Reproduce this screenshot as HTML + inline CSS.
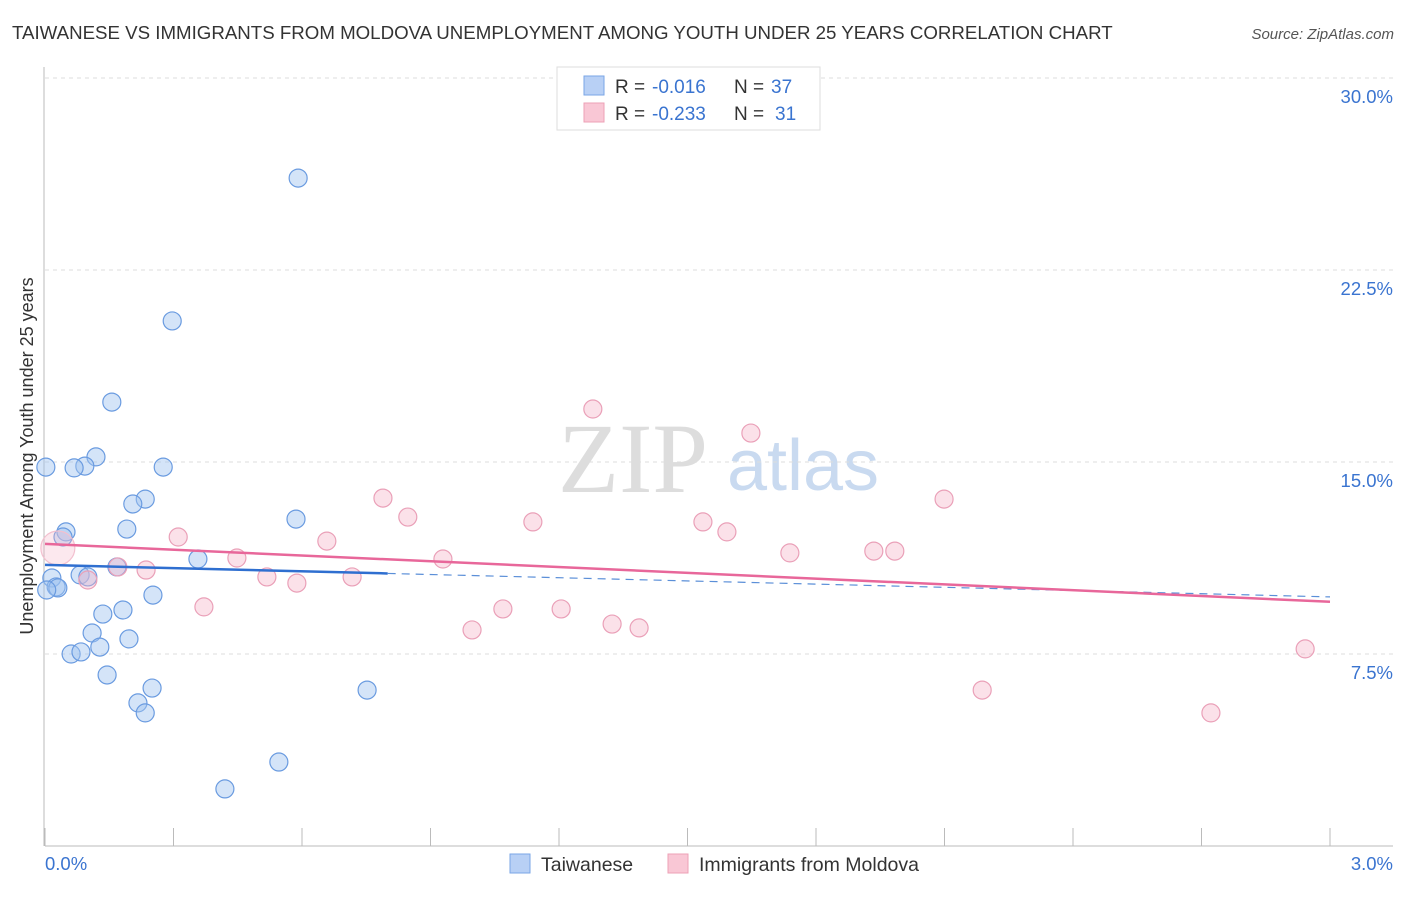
<!DOCTYPE html>
<html><head><meta charset="utf-8"><style>
body{margin:0;background:#fff;font-family:"Liberation Sans",sans-serif;}
</style></head><body>
<svg width="1406" height="892" xmlns="http://www.w3.org/2000/svg" id="svg" font-family="Liberation Sans, sans-serif">
<text x="12" y="39" font-size="18.7" fill="#333">TAIWANESE VS IMMIGRANTS FROM MOLDOVA UNEMPLOYMENT AMONG YOUTH UNDER 25 YEARS CORRELATION CHART</text>
<text x="1394" y="39" font-size="15" fill="#555" font-style="italic" text-anchor="end">Source: ZipAtlas.com</text>
<text x="633" y="492" font-size="100" fill="#ddd" font-family="Liberation Serif,serif" text-anchor="middle">ZIP</text>
<text x="803" y="490" font-size="72" fill="#c9daf0" text-anchor="middle">atlas</text>
<text transform="translate(33,456) rotate(-90)" font-size="18" fill="#333" text-anchor="middle">Unemployment Among Youth under 25 years</text>
<g id="grid"></g><g id="marks"></g>
<g>
<rect x="557" y="67" width="263" height="63" fill="#fff" stroke="#ddd"/>
<rect x="584" y="76" width="20" height="19" fill="#b8d0f5" stroke="#7aa6e6"/>
<rect x="584" y="103" width="20" height="19" fill="#f9c7d5" stroke="#eda0b6"/>
<text x="615" y="93" font-size="19" fill="#333">R = <tspan x="652" fill="#3a74d0">-0.016</tspan></text>
<text x="734" y="93" font-size="19" fill="#333">N = <tspan x="771" fill="#3a74d0">37</tspan></text>
<text x="615" y="120" font-size="19" fill="#333">R = <tspan x="652" fill="#3a74d0">-0.233</tspan></text>
<text x="734" y="120" font-size="19" fill="#333">N = <tspan x="775" fill="#3a74d0">31</tspan></text>
</g>
<g>
<rect x="510" y="854" width="20" height="19" fill="#b8d0f5" stroke="#7aa6e6"/>
<text x="541" y="871" font-size="19.5" fill="#333">Taiwanese</text>
<rect x="668" y="854" width="20" height="19" fill="#f9c7d5" stroke="#eda0b6"/>
<text x="699" y="871" font-size="19.5" fill="#333">Immigrants from Moldova</text>
</g>
<text x="45" y="870" font-size="18.5" fill="#3a74d0">0.0%</text>
<text x="1393" y="870" font-size="18.5" fill="#3a74d0" text-anchor="end">3.0%</text>
</svg>
<script>
const yTicks=[7.5,15,22.5,30];
const yTickLabels=["7.5%","15.0%","22.5%","30.0%"];
const xTicks=[0,0.3,0.6,0.9,1.2,1.5,1.8,2.1,2.4,2.7,3.0];
const blueX=[0.591,0.297,0.156,0.119,0.093,0.068,0.002,0.276,0.234,0.205,0.191,0.049,0.042,0.586,0.357,0.168,0.082,0.100,0.016,0.026,0.030,0.252,0.135,0.182,0.110,0.196,0.128,0.061,0.084,0.145,0.250,0.217,0.234,0.752,0.546,0.420,0.004];
const blueY=[26.09,20.51,17.34,15.20,14.84,14.77,14.80,14.80,13.55,13.36,12.38,12.27,12.07,12.77,11.21,10.90,10.59,10.51,10.47,10.12,10.08,9.80,9.06,9.22,8.32,8.09,7.77,7.50,7.58,6.68,6.17,5.59,5.20,6.09,3.28,2.23,10.0];
const pinkX=[1.279,1.648,0.789,2.099,0.847,1.139,1.536,1.592,0.311,0.658,0.448,0.929,1.739,1.935,1.984,0.170,0.236,0.518,0.717,0.588,0.100,0.371,1.069,1.205,0.997,1.324,1.387,2.188,2.942,2.722,0.030];
const pinkY=[17.07,16.13,13.59,13.55,12.85,12.66,12.66,12.27,12.07,11.91,11.25,11.21,11.45,11.52,11.52,10.90,10.78,10.51,10.51,10.27,10.39,9.34,9.26,9.26,8.44,8.67,8.52,6.09,7.70,5.20,11.64];
const blueTrend=[10.98,9.73];
const pinkTrend=[11.80,9.54];
const blueSolidEnd=0.8;
const NS="http://www.w3.org/2000/svg";
const X=v=>45+v/3*1285, Y=v=>846-v*25.6;
const grid=document.getElementById('grid'), marks=document.getElementById('marks'), svg=document.getElementById('svg');
function mk(tag,attrs,parent){const e=document.createElementNS(NS,tag);for(const k in attrs)e.setAttribute(k,attrs[k]);parent.appendChild(e);return e;}
yTicks.forEach((t,i)=>{
 const l=mk('line',{x1:45,x2:1393,y1:Y(t),y2:Y(t),stroke:'#ddd','stroke-dasharray':'4,4'},grid);
 
 
 const tx=mk('text',{x:1393,y:Y(t)+25,'font-size':18.5,fill:'#3a74d0','text-anchor':'end'},grid);
 tx.textContent=yTickLabels[i];
 
 
});
const ax=mk('line',{x1:45,x2:1393,y1:846,y2:846,stroke:'#bbb'},grid);


const ay=mk('line',{x1:44,x2:44,y1:67,y2:846,stroke:'#bbb'},grid);


xTicks.forEach(t=>{const l=mk('line',{x1:X(t),x2:X(t),y1:828,y2:846,stroke:'#bbb'},grid);
 
 });
blueX.forEach((x,i)=>{const c=mk('circle',{cx:X(x),cy:Y(blueY[i]),r:9,fill:'rgba(160,195,240,0.45)',stroke:'#6a9be0','stroke-width':1.2},marks);
 
 });
pinkX.forEach((x,i)=>{const big=i==pinkX.length-1;const c=mk('circle',{cx:X(x),cy:Y(pinkY[i]),r:big?17:9,fill:big?'rgba(245,180,200,0.3)':'rgba(245,180,200,0.4)',stroke:big?'#f3c0cf':'#eaa0b8','stroke-width':1.2},marks);
 
 });
const bAt=v=>blueTrend[0]+(blueTrend[1]-blueTrend[0])*v/3;
const bl=mk('line',{x1:X(0),y1:Y(bAt(0)),x2:X(blueSolidEnd),y2:Y(bAt(blueSolidEnd)),stroke:'#2f6fd0','stroke-width':2.5},marks);


const bd=mk('line',{x1:X(blueSolidEnd),y1:Y(bAt(blueSolidEnd)),x2:X(3),y2:Y(bAt(3)),stroke:'#5b8fd8','stroke-width':1.2,'stroke-dasharray':'8,6'},marks);


const pl=mk('line',{x1:X(0),y1:Y(pinkTrend[0]),x2:X(3),y2:Y(pinkTrend[1]),stroke:'#e8679a','stroke-width':2.5},marks);


</script>
</body></html>
